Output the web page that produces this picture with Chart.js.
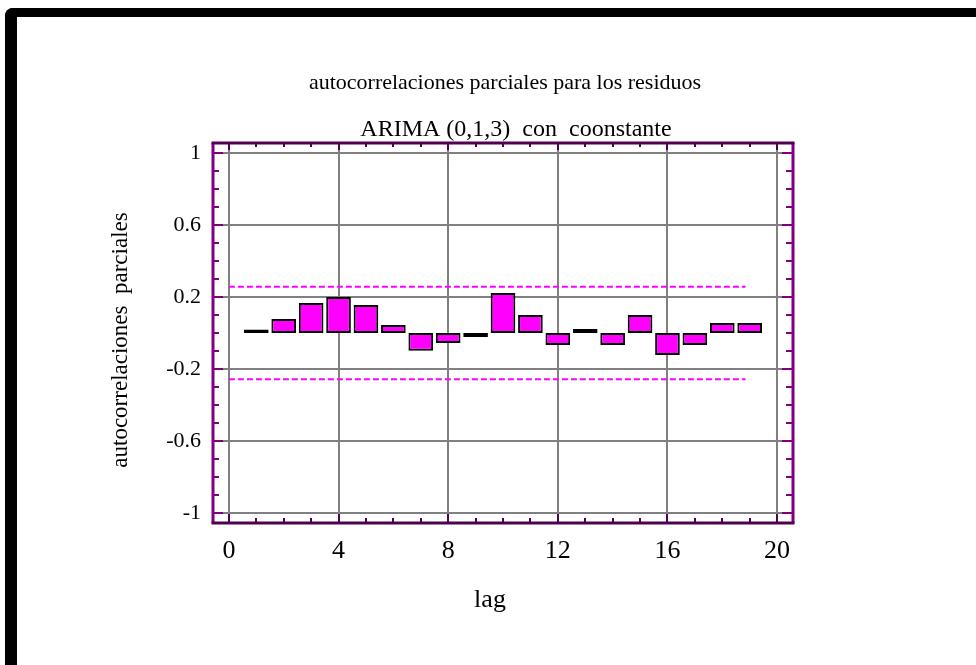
<!DOCTYPE html>
<html><head><meta charset="utf-8">
<script src="https://cdn.jsdelivr.net/npm/chart.js@4/dist/chart.umd.min.js"></script>
<style>
html,body{margin:0;padding:0;background:#fff;width:976px;height:665px;overflow:hidden;}
#frame{position:absolute;left:5px;top:8px;width:1000px;height:700px;border-top:9px solid #000;border-left:12px solid #000;border-top-left-radius:8px;box-sizing:border-box;}
#c{position:absolute;left:0;top:0;}
</style></head><body>
<div id="frame"></div>
<canvas id="c" width="976" height="665"></canvas>
<script>
// ---- data ----
const lags = [1,2,3,4,5,6,7,8,9,10,11,12,13,14,15,16,17,18,19];
const pacf = [0.02,0.078,0.167,0.2,0.155,0.044,-0.098,-0.056,-0.022,0.222,0.1,-0.067,0.022,-0.067,0.1,-0.122,-0.067,0.056,0.056];
const limitUpper = 0.257;
const limitLower = -0.257;
const limitX = [0, 18.85];
const xTickValues = [0,4,8,12,16,20];
const yTickValues = [-1,-0.6,-0.2,0.2,0.6,1];
const titleText = 'autocorrelaciones parciales para los residuos';
const subtitleText = 'ARIMA (0,1,3)  con  coonstante';
const xTitleText = 'lag';
const yTitleText = 'autocorrelaciones  parciales';

const SERIF = '"Liberation Serif", "Times New Roman", serif';

const decor = {
  id: 'decor',
  afterDraw(chart) {
    const ctx = chart.ctx, a = chart.chartArea;
    const xs = chart.scales.x, ys = chart.scales.y;
    ctx.save();
    // axis frame
    ctx.lineWidth = 3;
    ctx.strokeStyle = '#800080';
    ctx.beginPath();
    ctx.moveTo(a.left, a.top); ctx.lineTo(a.left, a.bottom);
    ctx.moveTo(a.right, a.top); ctx.lineTo(a.right, a.bottom);
    ctx.stroke();
    ctx.strokeStyle = '#500050';
    ctx.beginPath();
    ctx.moveTo(a.left - 1.5, a.top); ctx.lineTo(a.right + 1.5, a.top);
    ctx.moveTo(a.left - 1.5, a.bottom); ctx.lineTo(a.right + 1.5, a.bottom);
    ctx.stroke();
    // tick marks
    ctx.lineWidth = 2;
    ctx.strokeStyle = '#800080';
    ctx.beginPath();
    for (let i = -10; i <= 10; i++) {
      const p = Math.round(ys.getPixelForValue(i / 10));
      const major = ((i + 10) % 4 === 0);
      ctx.moveTo(a.left, p); ctx.lineTo(a.left + (major ? 10 : 6), p);
      ctx.moveTo(a.right, p); ctx.lineTo(a.right - (major ? 11 : 7), p);
    }
    ctx.stroke();
    ctx.strokeStyle = '#500050';
    ctx.beginPath();
    for (let i = 0; i <= 20; i++) {
      const p = Math.round(xs.getPixelForValue(i));
      const major = (i % 4 === 0);
      ctx.moveTo(p, a.top); ctx.lineTo(p, a.top + (major ? 7 : 4));
      ctx.moveTo(p, a.bottom); ctx.lineTo(p, a.bottom - (major ? 9 : 5));
    }
    ctx.stroke();
    // texts
    ctx.fillStyle = '#000';
    ctx.textAlign = 'center';
    ctx.textBaseline = 'alphabetic';
    ctx.font = '22px ' + SERIF;
    ctx.fillText(titleText, 505, 89);
    ctx.font = '24px ' + SERIF;
    ctx.fillText(subtitleText, 516, 136);
    ctx.font = '26px ' + SERIF;
    ctx.fillText(xTitleText, 490, 607);
    ctx.save();
    ctx.translate(127, 340);
    ctx.rotate(-Math.PI / 2);
    ctx.font = '23px ' + SERIF;
    ctx.fillText(yTitleText, 0, 0);
    ctx.restore();
    ctx.restore();
  }
};

new Chart(document.getElementById('c'), {
  type: 'bar',
  data: {
    datasets: [
      {
        type: 'line',
        data: limitX.map(x => ({x, y: limitUpper})),
        borderColor: '#ff00ff', borderWidth: 2, borderDash: [6, 3],
        pointRadius: 0, fill: false, order: 1
      },
      {
        type: 'line',
        data: limitX.map(x => ({x, y: limitLower})),
        borderColor: '#ff00ff', borderWidth: 2, borderDash: [6, 3],
        pointRadius: 0, fill: false, order: 1
      },
      {
        type: 'bar',
        data: lags.map((x, i) => ({x, y: pacf[i]})),
        backgroundColor: '#ff00ff', borderColor: '#000000', borderWidth: 2,
        borderSkipped: false, barPercentage: 0.9, categoryPercentage: 1.0, order: 2
      }
    ]
  },
  options: {
    responsive: false,
    animation: false,
    devicePixelRatio: 1,
    layout: { padding: { left: 0, top: 143, right: 183, bottom: 0 } },
    plugins: { legend: { display: false }, tooltip: { enabled: false }, title: { display: false } },
    scales: {
      x: {
        type: 'linear', min: -0.58, max: 20.58, offset: false,
        afterFit(s) { s.height = 142; },
        afterBuildTicks(s) { s.ticks = xTickValues.map(v => ({value: v})); },
        grid: { color: '#808080', lineWidth: 2, drawTicks: false, offset: false },
        border: { display: false },
        ticks: { font: { family: SERIF, size: 26 }, color: '#000', padding: 13, maxRotation: 0, autoSkip: false, callback: v => String(v) }
      },
      y: {
        type: 'linear', min: -1.055, max: 1.055,
        afterFit(s) { s.width = 213; },
        afterBuildTicks(s) { s.ticks = yTickValues.map(v => ({value: v})); },
        grid: { color: '#808080', lineWidth: 2, drawTicks: false },
        border: { display: false },
        ticks: { font: { family: SERIF, size: 22 }, color: '#000', padding: 12, autoSkip: false, callback: v => String(v) }
      }
    }
  },
  plugins: [decor]
});
</script>
</body></html>
